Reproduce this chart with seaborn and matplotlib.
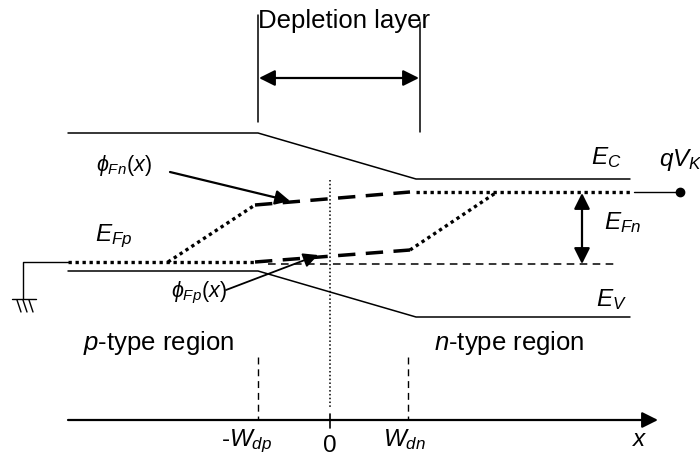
import matplotlib
matplotlib.use("Agg")
import matplotlib.pyplot as plt
import seaborn as sns
import pandas as pd

# ---- data (diagram coordinates, pixel-like units) ----
ec_x = [68, 258, 416, 630]
ec_y = [133, 133, 179, 179]
ev_x = [68, 258, 416, 630]
ev_y = [271, 271, 317, 317]
efp_flat_x = [68, 255]
efp_flat_y = [262, 262]
efn_rise_x = [168, 255]
efn_rise_y = [262, 205]
efn_dash_x = [255, 410]
efn_dash_y = [205, 192]
efn_flat_x = [416, 630]
efn_flat_y = [192, 192]
efp_dash_x = [255, 410]
efp_dash_y = [262, 250]
efp_rise_x = [410, 497]
efp_rise_y = [250, 192]
ef_eq_x = [268, 617]
ef_eq_y = [264, 264]

sns.set_style("white")
plt.rcParams['font.family'] = ['Liberation Sans', 'DejaVu Sans']
plt.rcParams['text.color'] = 'black'
plt.rcParams['mathtext.fontset'] = 'custom'
plt.rcParams['mathtext.it'] = 'Liberation Sans:italic'
plt.rcParams['mathtext.rm'] = 'Liberation Sans'
plt.rcParams['mathtext.sf'] = 'Liberation Sans'

fig = plt.figure(figsize=(7, 4.59), dpi=100)
ax = fig.add_axes([0, 0, 1, 1])
ax.set_xlim(0, 700)
ax.set_ylim(459, 0)
ax.axis("off")

def line(xs, ys, **kw):
    df = pd.DataFrame({"x": xs, "y": ys})
    sns.lineplot(data=df, x="x", y="y", sort=False, ax=ax, estimator=None, **kw)

k = "black"
FS = 17.5
FL = 18.5
line(ec_x, ec_y, color=k, lw=1.1)
line(ev_x, ev_y, color=k, lw=1.1)
dot = (0, (1, 1.1))
line(efp_flat_x, efp_flat_y, color=k, lw=2.4, linestyle=dot)
line(efn_rise_x, efn_rise_y, color=k, lw=2.4, linestyle=dot)
line(efn_flat_x, efn_flat_y, color=k, lw=2.4, linestyle=dot)
line(efp_rise_x, efp_rise_y, color=k, lw=2.4, linestyle=dot)
line(efn_dash_x, efn_dash_y, color=k, lw=2.5, linestyle=(0, (5, 3)))
line(efp_dash_x, efp_dash_y, color=k, lw=2.5, linestyle=(0, (5, 3)))
line(ef_eq_x, ef_eq_y, color=k, lw=1.1, linestyle=(0, (5, 3.5)))

# depletion layer markers
line([258, 258], [15, 122], color=k, lw=1.1)
line([420, 420], [22, 132], color=k, lw=1.1)
ax.annotate("", xy=(259, 78), xytext=(419, 78),
            arrowprops=dict(arrowstyle="<|-|>", color=k, lw=1.6, mutation_scale=24, shrinkA=0, shrinkB=0))
ax.text(258, 21, "Depletion layer", fontsize=FL, va="center", ha="left")

# center dotted
line([330, 330], [180, 408], color=k, lw=1.1, linestyle=(0, (1, 1.5)))

# EFn vertical double arrow
ax.annotate("", xy=(582, 193), xytext=(582, 264),
            arrowprops=dict(arrowstyle="<|-|>", color=k, lw=1.6, mutation_scale=24, shrinkA=0, shrinkB=0))

# qVk terminal
line([634, 680], [192, 192], color=k, lw=1.0)
ax.plot([680], [192], "o", color=k, ms=6)

def lab(x, y, s, fs=FS, ha="left"):
    ax.text(x, y, s, fontsize=fs, va="center", ha=ha)

lab(659, 160, r"$qV_K$")
lab(591, 158, r"$E_C$")
lab(604, 223, r"$E_{Fn}$")
lab(596, 300, r"$E_V$")
lab(95, 236, r"$E_{Fp}$")
lab(96, 165, r"$\phi_{Fn}(x)$", fs=15.5)
lab(171, 293, r"$\phi_{Fp}(x)$", fs=15.5)

# phi arrows
ax.annotate("", xy=(290, 201), xytext=(170, 172),
            arrowprops=dict(arrowstyle="-|>", color=k, lw=1.6, mutation_scale=22, shrinkA=0, shrinkB=0))
ax.annotate("", xy=(318, 255), xytext=(226, 290),
            arrowprops=dict(arrowstyle="-|>", color=k, lw=1.3, mutation_scale=22, shrinkA=0, shrinkB=0))

# ground
line([68, 23, 23], [262, 262, 299], color=k, lw=1.0)
line([12, 36], [299, 299], color=k, lw=1.0)
for gx in [14, 20, 26]:
    line([gx + 3, gx + 7], [300, 312], color=k, lw=1.0)

# region labels
ax.text(83, 343, "$p$-type region", fontsize=FL, va="center", ha="left")
ax.text(434, 343, "$n$-type region", fontsize=FL, va="center", ha="left")

# x axis
ax.annotate("", xy=(658, 420), xytext=(68, 420),
            arrowprops=dict(arrowstyle="-|>", color=k, lw=1.6, mutation_scale=24, shrinkA=0, shrinkB=0))
line([258, 258], [357, 420], color=k, lw=1.0, linestyle=(0, (5, 3.5)))
line([408, 408], [357, 420], color=k, lw=1.0, linestyle=(0, (5, 3.5)))
line([330, 330], [414, 428], color=k, lw=1.2)
lab(247, 441, r"-$W_{dp}$", ha="center")
lab(330, 446, "0", ha="center")
lab(405, 440, r"$W_{dn}$", ha="center")
lab(640, 440, r"$x$", ha="center")

fig.savefig("out.png", dpi=100)
